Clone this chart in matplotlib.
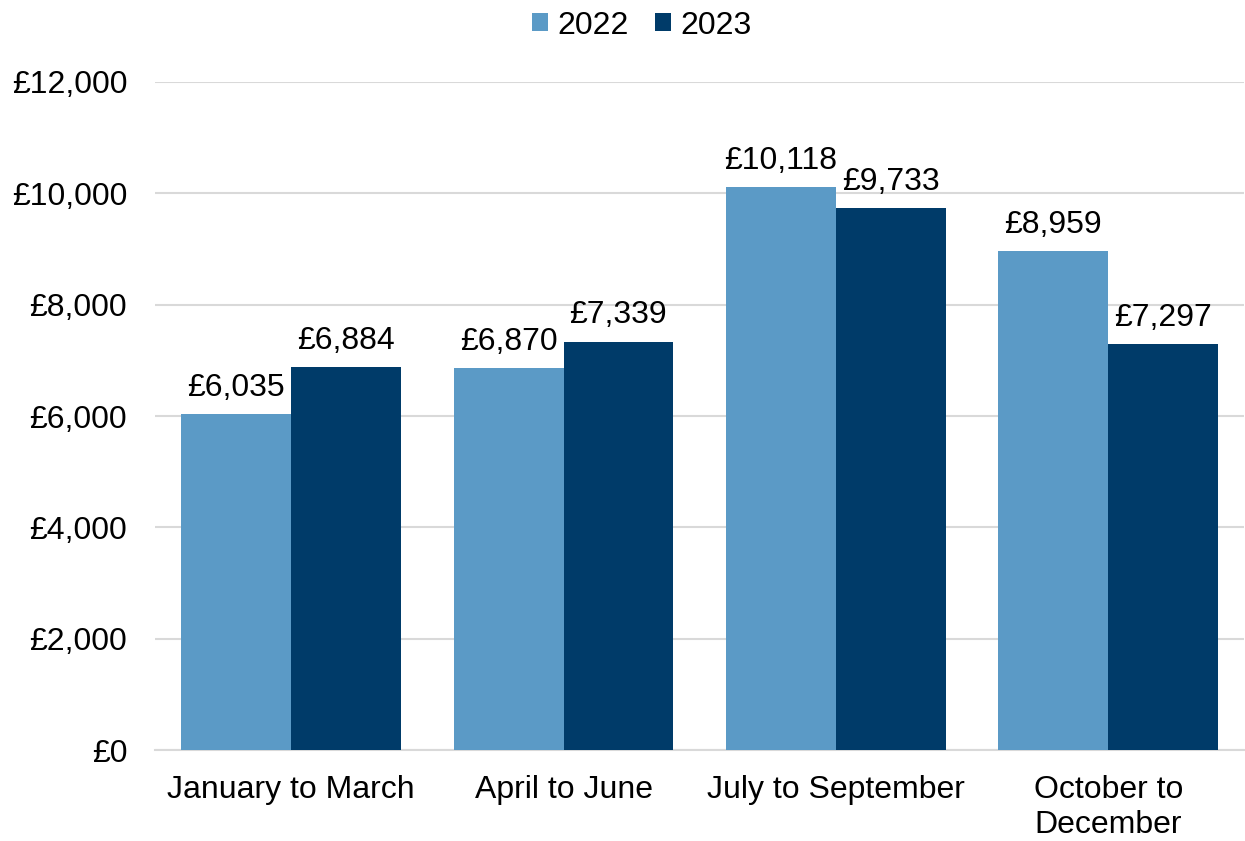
import numpy as np
import matplotlib.pyplot as plt

plt.rcParams['font.family'] = ['Liberation Sans', 'DejaVu Sans']

categories = ['January to March', 'April to June', 'July to September', 'October to\nDecember']
values_2022 = [6035, 6870, 10118, 8959]
values_2023 = [6884, 7339, 9733, 7297]
years = ['2022', '2023']
colors = ['#5B9AC6', '#003B69']

fig = plt.figure(figsize=(12.45, 8.41), dpi=100)
ax = fig.add_axes([0.1245, 0.108, 0.875, 0.7945])

x = np.arange(len(categories))
w = 0.403
bars1 = ax.bar(x - w / 2, values_2022, w, color=colors[0], label=years[0], zorder=3)
bars2 = ax.bar(x + w / 2, values_2023, w, color=colors[1], label=years[1], zorder=3)

for bars in (bars1, bars2):
    for b in bars:
        ax.annotate(f'£{b.get_height():,.0f}', (b.get_x() + b.get_width() / 2, b.get_height()),
                    xytext=(0, 8), textcoords='offset points', ha='center', va='bottom', fontsize=23)

ax.set_xlim(-0.5, len(categories) - 0.5)
ax.set_ylim(0, 12000)
ax.set_yticks(np.arange(0, 12001, 2000))
ax.set_yticklabels([f'£{v:,}' for v in range(0, 12001, 2000)])
ax.set_xticks(x)
ax.set_xticklabels(categories, linespacing=1.2)
ax.tick_params(axis='y', length=0, pad=20, labelsize=23)
ax.tick_params(axis='x', length=0, pad=18, labelsize=23)
ax.grid(axis='y', color='#d9d9d9', linewidth=1.5, zorder=0)
for s in ['left', 'right', 'top']:
    ax.spines[s].set_visible(False)
ax.spines['bottom'].set_color('#d9d9d9')
ax.spines['bottom'].set_linewidth(1.5)

ax.legend(loc='upper center', bbox_to_anchor=(0.447, 1.15), ncol=2, frameon=False, fontsize=23,
          handlelength=0.5, handleheight=0.5, handletextpad=0.3, columnspacing=0.8)

fig.savefig('out.png', dpi=100)
